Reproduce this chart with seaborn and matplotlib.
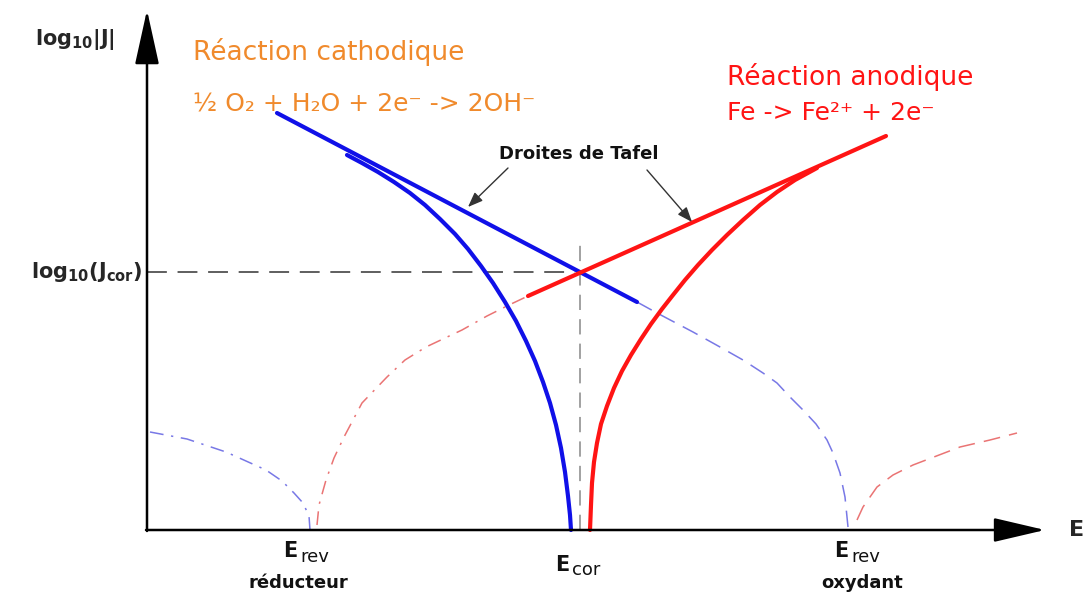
import numpy as np
import pandas as pd
import matplotlib
matplotlib.use("Agg")
import matplotlib.pyplot as plt
import seaborn as sns

# Coordinates: E along x (0 at origin), log10|J| along y (0 at the E axis)
E_cor = 433
J_cor = 258
E_rev_red = 163
E_rev_ox = 715

# Tafel straight lines
tafel_cath_E = [130, 490]
tafel_cath_J = [417, 228]
tafel_anod_E = [381, 739]
tafel_anod_J = [234, 394]

# measured cathodic curve (blue, solid)
cath_E = [200, 215, 231, 247, 263, 278, 293, 308, 321, 334, 346, 358, 369,
          379, 388, 396, 403, 409, 414, 418, 421, 423, 424]
cath_J = [375, 367, 358, 348, 337, 325, 311, 296, 281, 264, 247, 228, 209,
          189, 169, 148, 127, 105, 82, 58, 34, 15, 0]

# measured anodic curve (red, solid)
anod_E = [443, 444, 445, 447, 450, 454, 460, 467, 475, 484, 494, 504, 515,
          526, 538, 551, 565, 580, 596, 613, 630, 648, 670]
anod_J = [0, 25, 47, 68, 87, 106, 124, 142, 159, 175, 191, 206, 221,
          235, 250, 265, 280, 295, 310, 325, 338, 350, 362]

# extrapolated cathodic branch towards E_rev oxydant (thin blue dashed)
cath_ext_E = [490, 510, 546, 573, 596, 616, 630, 643, 656, 669, 680, 686, 693, 698, 701]
cath_ext_J = [228, 217, 198, 183, 170, 157, 147, 133, 120, 106, 90, 77, 57, 33, 3]

# anodic branch of the oxidant couple (thin red dashed)
ox_anod_E = [710, 716, 730, 746, 766, 813, 843, 870]
ox_anod_J = [10, 23, 43, 55, 65, 83, 90, 97]

# cathodic branch of the reducer couple (thin blue dash-dot)
red_cath_E = [3, 40, 79, 119, 135, 147, 156, 162, 163]
red_cath_J = [98, 91, 78, 60, 49, 37, 27, 14, 0]

# extrapolated anodic branch towards E_rev reducteur (thin red dash-dot)
anod_ext_E = [170, 172, 179, 187, 197, 215, 240, 258, 279, 315, 340, 362, 381]
anod_ext_J = [5, 25, 50, 72, 93, 127, 153, 170, 183, 200, 214, 225, 234]

sns.set_style("white")
plt.rcParams["font.family"] = ["DejaVu Sans"]

fig = plt.figure(figsize=(10.85, 5.99), dpi=100)
ax = fig.add_axes([0, 0, 1, 1])
ax.set_xlim(-147, 938)
ax.set_ylim(-69, 530)
ax.axis("off")

blue = "#1010e8"
red = "#ff1414"
blue_thin = "#7878e6"
red_thin = "#ea7474"

# thin extrapolations
sns.lineplot(x=red_cath_E, y=red_cath_J, sort=False, estimator=None, ax=ax,
             color=blue_thin, lw=1.1, linestyle=(0, (9, 5, 1.5, 5)))
sns.lineplot(x=anod_ext_E, y=anod_ext_J, sort=False, estimator=None, ax=ax,
             color=red_thin, lw=1.1, linestyle=(0, (9, 5, 1.5, 5)))
sns.lineplot(x=cath_ext_E, y=cath_ext_J, sort=False, estimator=None, ax=ax,
             color=blue_thin, lw=1.1, linestyle=(0, (11, 6)))
sns.lineplot(x=ox_anod_E, y=ox_anod_J, sort=False, estimator=None, ax=ax,
             color=red_thin, lw=1.1, linestyle=(0, (11, 6)))

# guide lines for E_cor / J_cor
ax.plot([0, E_cor - 5], [J_cor, J_cor], color="#333333", lw=1.1,
        linestyle=(0, (13, 7)))
ax.plot([E_cor, E_cor], [0, J_cor + 32], color="#888888", lw=1.1,
        linestyle=(0, (10, 6)))

# measured curves
sns.lineplot(x=cath_E, y=cath_J, sort=False, estimator=None, ax=ax,
             color=blue, lw=3.0, solid_joinstyle="round")
sns.lineplot(x=anod_E, y=anod_J, sort=False, estimator=None, ax=ax,
             color=red, lw=3.0, solid_joinstyle="round")

# Tafel lines
sns.lineplot(x=tafel_cath_E, y=tafel_cath_J, sort=False, estimator=None, ax=ax,
             color=blue, lw=3.0, solid_capstyle="round")
sns.lineplot(x=tafel_anod_E, y=tafel_anod_J, sort=False, estimator=None, ax=ax,
             color=red, lw=3.0, solid_capstyle="round")

# axes with arrows
ax.annotate("", xy=(0, 520), xytext=(0, -1),
            arrowprops=dict(arrowstyle="-|>,head_length=34,head_width=7.5",
                            mutation_scale=1, lw=1.8, color="black",
                            shrinkA=0, shrinkB=0))
ax.annotate("", xy=(898, 0), xytext=(-1, 0),
            arrowprops=dict(arrowstyle="-|>,head_length=32,head_width=7.5",
                            mutation_scale=1, lw=1.8, color="black",
                            shrinkA=0, shrinkB=0))

# axis labels
ax.text(-72, 491, r"$\mathbf{log_{10}|J|}$", fontsize=15, ha="center", va="center")
ax.text(-5, 258, r"$\mathbf{log_{10}(J_{cor})}$", fontsize=15, ha="right", va="center")
ax.text(922, 0, "E", fontsize=16, fontweight="bold", ha="left", va="center")

lab = dict(fontsize=13, fontweight="bold", color="#111111")
big = dict(lab, fontsize=15)
ax.text(E_rev_red - 13, -21, "E", ha="right", va="center", **big)
ax.text(E_rev_red - 10, -27, "rev", ha="left", va="center", fontsize=13, color="#111111")
ax.text(E_rev_red - 12, -53, "réducteur", ha="center", va="center", **lab)
ax.text(E_cor - 11, -35, "E", ha="right", va="center", **big)
ax.text(E_cor - 8, -40, "cor", ha="left", va="center", fontsize=13, color="#111111")
ax.text(E_rev_ox - 14, -21, "E", ha="right", va="center", **big)
ax.text(E_rev_ox - 11, -27, "rev", ha="left", va="center", fontsize=13, color="#111111")
ax.text(E_rev_ox, -53, "oxydant", ha="center", va="center", **lab)

# reaction labels
orange = "#f08a2c"
ax.text(46, 478, "Réaction cathodique", fontsize=19, color=orange, ha="left", va="center")
ax.text(46, 425, "½ O₂ + H₂O + 2e⁻ -> 2OH⁻", fontsize=18, color=orange,
        ha="left", va="center")
ax.text(580, 453, "Réaction anodique", fontsize=19, color=red, ha="left", va="center")
ax.text(580, 417, "Fe -> Fe²⁺ + 2e⁻", fontsize=18, color=red, ha="left", va="center")

# Tafel annotation
ax.text(432, 376, "Droites de Tafel", fontsize=13, fontweight="bold",
        ha="center", va="center", color="#111111")
for tip in [(321, 323), (545, 308)]:
    start = (361, 362) if tip[0] < E_cor else (500, 360)
    ax.annotate("", xy=tip, xytext=start,
                arrowprops=dict(arrowstyle="-|>,head_length=9,head_width=3.5",
                                mutation_scale=1, lw=1.0, color="#333333",
                                shrinkA=0, shrinkB=0))

fig.savefig("out.png", dpi=100)
